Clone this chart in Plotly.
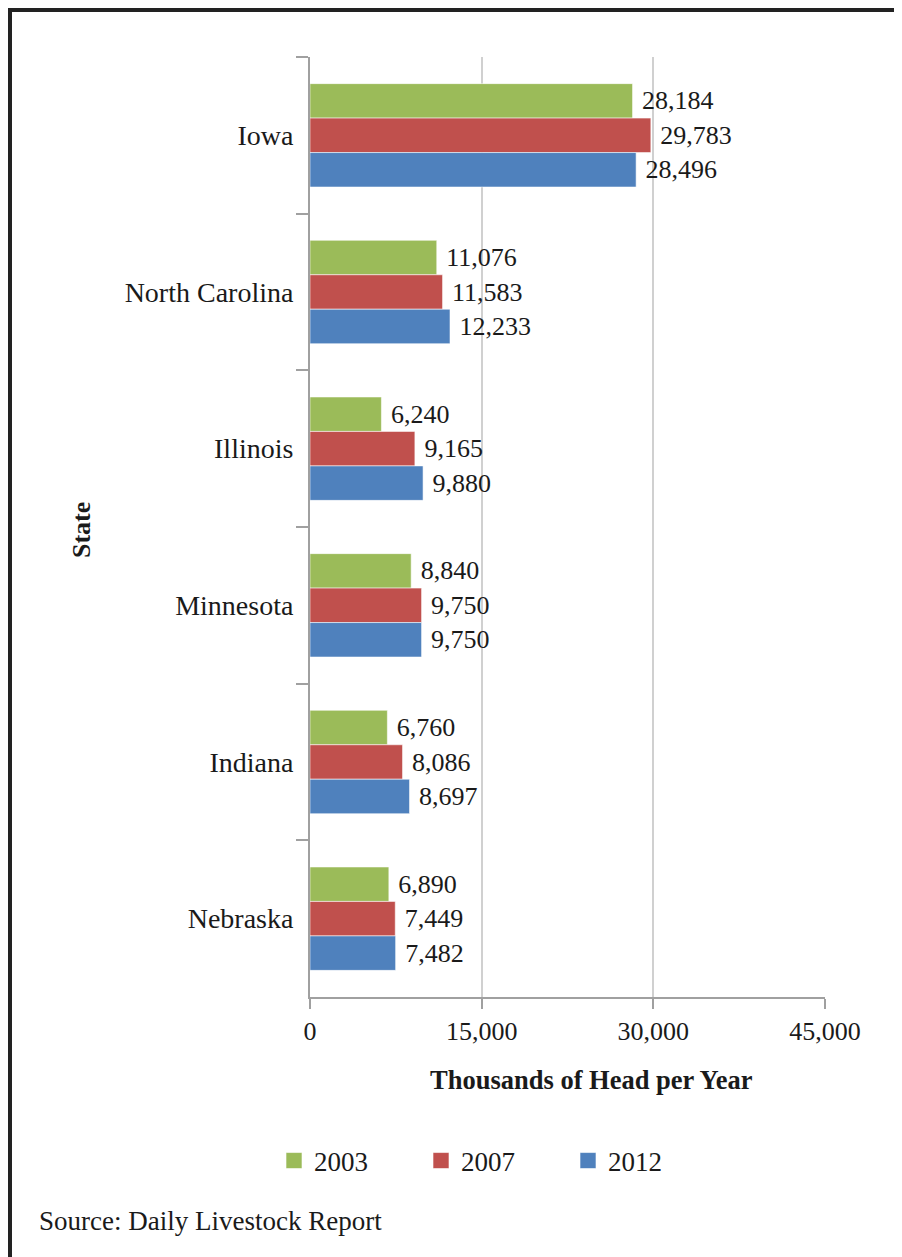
import plotly.graph_objects as go

states = ["Iowa", "North Carolina", "Illinois", "Minnesota", "Indiana", "Nebraska"]
years = ["2003", "2007", "2012"]
v2003 = [28184, 11076, 6240, 8840, 6760, 6890]
v2007 = [29783, 11583, 9165, 9750, 8086, 7449]
v2012 = [28496, 12233, 9880, 9750, 8697, 7482]
colors = ["#9BBB59", "#C0504D", "#4F81BD"]
x_ticks = [0, 15000, 30000, 45000]
x_ticklabels = ["0", "15,000", "30,000", "45,000"]

# page has an 8px body margin; work in reference-page pixels and convert
OFF = 8
W, H = 902 - OFF, 1257 - OFF
ML, MT = 310 - OFF, 57 - OFF
MR = W - (825 - OFF)
MB = H - (997 - OFF)
PW = W - ML - MR
PH = H - MT - MB

def px(x):
    return (x - OFF - ML) / PW

def py(y):
    return (H - MB - (y - OFF)) / PH

FONT = "Liberation Serif, Times New Roman, serif"
INK = "#1a1a1a"

fig = go.Figure()
for name, vals, col in zip(years, [v2003, v2007, v2012], colors):
    fig.add_trace(go.Bar(
        y=states, x=vals, name=name, orientation="h", legendgroup=name, showlegend=False,
        marker=dict(color=col, line=dict(color="rgba(255,255,255,0.55)", width=1)),
        texttemplate="\u00a0%{x:,}", textposition="outside",
        textfont=dict(family=FONT, size=26, color=INK),
        constraintext="none", cliponaxis=False,
    ))
# legend keys (larger square swatches)
for name, col in zip(years, colors):
    fig.add_trace(go.Scatter(
        x=[None], y=[None], mode="markers", name=name, legendgroup=name,
        marker=dict(symbol="square", size=16, color=col,
                    line=dict(color="rgba(255,255,255,0.6)", width=1)),
        showlegend=True, hoverinfo="skip",
    ))

fig.update_layout(
    width=W, height=H,
    margin=dict(l=ML, r=MR, t=MT, b=MB),
    paper_bgcolor="white", plot_bgcolor="white",
    barmode="group", bargap=0.34, bargroupgap=0,
    font=dict(family=FONT, size=26, color=INK),
    showlegend=True,
    legend=dict(
        orientation="h", x=px(274), xanchor="left", y=py(1161), yanchor="middle",
        font=dict(family=FONT, size=27, color=INK),
        entrywidth=102, entrywidthmode="pixels", traceorder="normal",
        itemsizing="trace", bgcolor="rgba(0,0,0,0)",
    ),
    xaxis=dict(
        range=[0, 45000], tickvals=x_ticks, ticktext=x_ticklabels,
        showgrid=True, gridcolor="#d0d0d0", gridwidth=2,
        showline=True, linecolor="#a0a0a0", linewidth=2,
        ticks="outside", ticklen=10, tickwidth=2, tickcolor="#a0a0a0",
        tickfont=dict(family=FONT, size=26, color=INK),
        zeroline=False, fixedrange=True,
    ),
    yaxis=dict(
        categoryorder="array", categoryarray=states, autorange="reversed",
        showline=True, linecolor="#a0a0a0", linewidth=2,
        ticks="outside", ticklen=12, tickwidth=2, tickcolor="#a0a0a0",
        tickson="boundaries", ticklabelstandoff=9,
        tickfont=dict(family=FONT, size=28, color=INK),
        showgrid=False, zeroline=False,
    ),
    annotations=[
        dict(text="<b>Thousands of Head per Year</b>", xref="paper", yref="paper",
             x=px(591), y=py(1080), xanchor="center", yanchor="middle", showarrow=False,
             font=dict(family=FONT, size=26.5, color=INK)),
        dict(text="<b>State</b>", xref="paper", yref="paper", textangle=-90,
             x=px(81), y=py(530), xanchor="center", yanchor="middle", showarrow=False,
             font=dict(family=FONT, size=26, color=INK)),
        dict(text="Source: Daily Livestock Report", xref="paper", yref="paper",
             x=px(37), y=py(1221), xanchor="left", yanchor="middle", showarrow=False,
             font=dict(family=FONT, size=27, color=INK)),
    ],
    shapes=[
        dict(type="rect", xref="paper", yref="paper",
             x0=px(OFF + 2), x1=px(930), y0=py(1290), y1=py(OFF + 2),
             line=dict(color="#222222", width=4), fillcolor="rgba(0,0,0,0)", layer="below"),
    ],
)

fig.write_html("out.html")
